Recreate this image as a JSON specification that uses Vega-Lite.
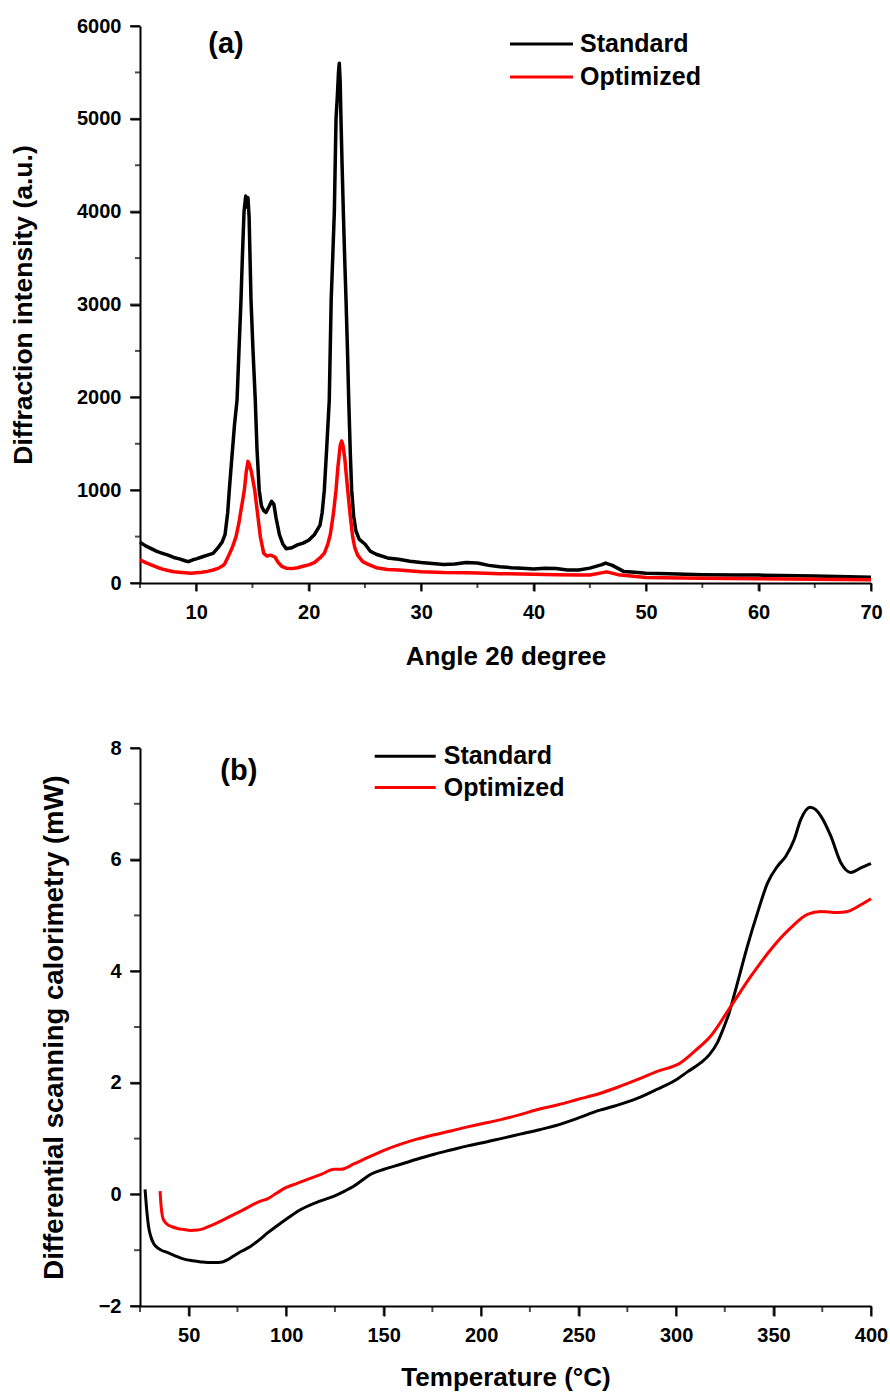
{
"$schema": "https://vega.github.io/schema/vega-lite/v6.json",
"padding": {"left": 10, "top": 16, "right": 5, "bottom": 5},
"spacing": 165,
"bounds": "flush",
"config": {
 "font": "Liberation Sans",
 "view": {"stroke": null},
 "axis": {"grid": false, "zindex": 1, "domainColor": "#000", "domainWidth": 2, "tickColor": "#000", "tickWidth": 2,
  "labelFont": "Liberation Sans", "labelFontSize": 20, "labelFontWeight": "bold", "labelColor": "#000",
  "titleFont": "Liberation Sans", "titleFontSize": 26, "titleFontWeight": "bold", "titleColor": "#000",
  "labelPadding": 9, "labelOverlap": false, "labelFlush": false}
},
"datasets": {
 "a_xmajor": [{"angle":10},{"angle":20},{"angle":30},{"angle":40},{"angle":50},{"angle":60},{"angle":70}],
 "a_xminor": [{"angle":5},{"angle":15},{"angle":25},{"angle":35},{"angle":45},{"angle":55},{"angle":65}],
 "a_ymajor": [{"intensity":0},{"intensity":1000},{"intensity":2000},{"intensity":3000},{"intensity":4000},{"intensity":5000},{"intensity":6000}],
 "a_yminor": [{"intensity":500},{"intensity":1500},{"intensity":2500},{"intensity":3500},{"intensity":4500},{"intensity":5500}],
 "b_xmajor": [{"temperature":50},{"temperature":100},{"temperature":150},{"temperature":200},{"temperature":250},{"temperature":300},{"temperature":350},{"temperature":400}],
 "b_xminor": [{"temperature":25},{"temperature":75},{"temperature":125},{"temperature":175},{"temperature":225},{"temperature":275},{"temperature":325},{"temperature":375}],
 "b_ymajor": [{"dsc":-2},{"dsc":0},{"dsc":2},{"dsc":4},{"dsc":6},{"dsc":8}],
 "b_yminor": [{"dsc":-1},{"dsc":1},{"dsc":3},{"dsc":5},{"dsc":7}],
 "xrd": [
  {"sample":"Standard","angle":5.0,"intensity":440},{"sample":"Standard","angle":5.5,"intensity":400},{"sample":"Standard","angle":6.0,"intensity":370},{"sample":"Standard","angle":6.5,"intensity":340},{"sample":"Standard","angle":7.0,"intensity":320},{"sample":"Standard","angle":7.5,"intensity":300},{"sample":"Standard","angle":8.0,"intensity":275},{"sample":"Standard","angle":8.5,"intensity":260},{"sample":"Standard","angle":9.0,"intensity":240},{"sample":"Standard","angle":9.3,"intensity":230},{"sample":"Standard","angle":9.7,"intensity":250},{"sample":"Standard","angle":10.0,"intensity":260},{"sample":"Standard","angle":10.5,"intensity":280},{"sample":"Standard","angle":11.0,"intensity":300},{"sample":"Standard","angle":11.5,"intensity":320},{"sample":"Standard","angle":12.0,"intensity":390},{"sample":"Standard","angle":12.3,"intensity":440},{"sample":"Standard","angle":12.56,"intensity":520},{"sample":"Standard","angle":12.8,"intensity":760},{"sample":"Standard","angle":12.94,"intensity":1000},{"sample":"Standard","angle":13.2,"intensity":1400},{"sample":"Standard","angle":13.4,"intensity":1700},{"sample":"Standard","angle":13.63,"intensity":1970},{"sample":"Standard","angle":13.8,"intensity":2500},{"sample":"Standard","angle":13.98,"intensity":3050},{"sample":"Standard","angle":14.1,"intensity":3500},{"sample":"Standard","angle":14.25,"intensity":4000},{"sample":"Standard","angle":14.4,"intensity":4170},{"sample":"Standard","angle":14.5,"intensity":4050},{"sample":"Standard","angle":14.6,"intensity":4150},{"sample":"Standard","angle":14.7,"intensity":3950},{"sample":"Standard","angle":14.87,"intensity":3050},{"sample":"Standard","angle":15.05,"intensity":2500},{"sample":"Standard","angle":15.25,"intensity":1970},{"sample":"Standard","angle":15.4,"intensity":1450},{"sample":"Standard","angle":15.6,"intensity":1000},{"sample":"Standard","angle":15.8,"intensity":830},{"sample":"Standard","angle":16.0,"intensity":780},{"sample":"Standard","angle":16.2,"intensity":760},{"sample":"Standard","angle":16.5,"intensity":830},{"sample":"Standard","angle":16.7,"intensity":880},{"sample":"Standard","angle":16.9,"intensity":850},{"sample":"Standard","angle":17.1,"intensity":700},{"sample":"Standard","angle":17.4,"intensity":520},{"sample":"Standard","angle":17.7,"intensity":420},{"sample":"Standard","angle":18.0,"intensity":370},{"sample":"Standard","angle":18.5,"intensity":380},{"sample":"Standard","angle":19.0,"intensity":410},{"sample":"Standard","angle":19.5,"intensity":430},{"sample":"Standard","angle":20.0,"intensity":460},{"sample":"Standard","angle":20.5,"intensity":520},{"sample":"Standard","angle":21.0,"intensity":620},{"sample":"Standard","angle":21.2,"intensity":760},{"sample":"Standard","angle":21.39,"intensity":1000},{"sample":"Standard","angle":21.6,"intensity":1450},{"sample":"Standard","angle":21.83,"intensity":1970},{"sample":"Standard","angle":22.0,"intensity":3050},{"sample":"Standard","angle":22.15,"intensity":3550},{"sample":"Standard","angle":22.28,"intensity":4000},{"sample":"Standard","angle":22.43,"intensity":5000},{"sample":"Standard","angle":22.55,"intensity":5250},{"sample":"Standard","angle":22.65,"intensity":5500},{"sample":"Standard","angle":22.72,"intensity":5600},{"sample":"Standard","angle":22.8,"intensity":5400},{"sample":"Standard","angle":22.87,"intensity":5000},{"sample":"Standard","angle":22.97,"intensity":4500},{"sample":"Standard","angle":23.08,"intensity":4000},{"sample":"Standard","angle":23.2,"intensity":3500},{"sample":"Standard","angle":23.32,"intensity":3050},{"sample":"Standard","angle":23.45,"intensity":2500},{"sample":"Standard","angle":23.56,"intensity":1970},{"sample":"Standard","angle":23.7,"intensity":1400},{"sample":"Standard","angle":23.82,"intensity":1000},{"sample":"Standard","angle":24.0,"intensity":720},{"sample":"Standard","angle":24.2,"intensity":560},{"sample":"Standard","angle":24.5,"intensity":470},{"sample":"Standard","angle":25.0,"intensity":420},{"sample":"Standard","angle":25.5,"intensity":340},{"sample":"Standard","angle":26.0,"intensity":310},{"sample":"Standard","angle":27.0,"intensity":270},{"sample":"Standard","angle":28.0,"intensity":255},{"sample":"Standard","angle":29.0,"intensity":235},{"sample":"Standard","angle":30.0,"intensity":220},{"sample":"Standard","angle":31.0,"intensity":210},{"sample":"Standard","angle":32.0,"intensity":200},{"sample":"Standard","angle":33.0,"intensity":205},{"sample":"Standard","angle":34.0,"intensity":220},{"sample":"Standard","angle":35.0,"intensity":215},{"sample":"Standard","angle":36.0,"intensity":190},{"sample":"Standard","angle":37.0,"intensity":175},{"sample":"Standard","angle":38.0,"intensity":165},{"sample":"Standard","angle":39.0,"intensity":160},{"sample":"Standard","angle":40.0,"intensity":150},{"sample":"Standard","angle":41.0,"intensity":160},{"sample":"Standard","angle":42.0,"intensity":155},{"sample":"Standard","angle":43.0,"intensity":140},{"sample":"Standard","angle":44.0,"intensity":140},{"sample":"Standard","angle":45.0,"intensity":160},{"sample":"Standard","angle":46.0,"intensity":195},{"sample":"Standard","angle":46.4,"intensity":215},{"sample":"Standard","angle":47.0,"intensity":190},{"sample":"Standard","angle":48.0,"intensity":125},{"sample":"Standard","angle":49.0,"intensity":115},{"sample":"Standard","angle":50.0,"intensity":105},{"sample":"Standard","angle":52.0,"intensity":100},{"sample":"Standard","angle":55.0,"intensity":90},{"sample":"Standard","angle":58.0,"intensity":85},{"sample":"Standard","angle":60.0,"intensity":85},{"sample":"Standard","angle":62.0,"intensity":80},{"sample":"Standard","angle":65.0,"intensity":75},{"sample":"Standard","angle":68.0,"intensity":68},{"sample":"Standard","angle":70.0,"intensity":62},
  {"sample":"Optimized","angle":5.0,"intensity":250},{"sample":"Optimized","angle":5.5,"intensity":220},{"sample":"Optimized","angle":6.0,"intensity":195},{"sample":"Optimized","angle":6.5,"intensity":170},{"sample":"Optimized","angle":7.0,"intensity":150},{"sample":"Optimized","angle":7.5,"intensity":135},{"sample":"Optimized","angle":8.0,"intensity":122},{"sample":"Optimized","angle":8.5,"intensity":115},{"sample":"Optimized","angle":9.0,"intensity":110},{"sample":"Optimized","angle":9.5,"intensity":105},{"sample":"Optimized","angle":10.0,"intensity":110},{"sample":"Optimized","angle":10.5,"intensity":115},{"sample":"Optimized","angle":11.0,"intensity":125},{"sample":"Optimized","angle":11.5,"intensity":140},{"sample":"Optimized","angle":12.0,"intensity":160},{"sample":"Optimized","angle":12.5,"intensity":200},{"sample":"Optimized","angle":12.9,"intensity":300},{"sample":"Optimized","angle":13.2,"intensity":380},{"sample":"Optimized","angle":13.54,"intensity":500},{"sample":"Optimized","angle":13.8,"intensity":650},{"sample":"Optimized","angle":14.0,"intensity":800},{"sample":"Optimized","angle":14.28,"intensity":1000},{"sample":"Optimized","angle":14.45,"intensity":1200},{"sample":"Optimized","angle":14.6,"intensity":1310},{"sample":"Optimized","angle":14.72,"intensity":1280},{"sample":"Optimized","angle":14.9,"intensity":1200},{"sample":"Optimized","angle":15.2,"intensity":1000},{"sample":"Optimized","angle":15.45,"intensity":750},{"sample":"Optimized","angle":15.7,"intensity":500},{"sample":"Optimized","angle":16.0,"intensity":320},{"sample":"Optimized","angle":16.3,"intensity":290},{"sample":"Optimized","angle":16.6,"intensity":300},{"sample":"Optimized","angle":17.0,"intensity":280},{"sample":"Optimized","angle":17.3,"intensity":220},{"sample":"Optimized","angle":17.6,"intensity":180},{"sample":"Optimized","angle":18.0,"intensity":160},{"sample":"Optimized","angle":18.5,"intensity":155},{"sample":"Optimized","angle":19.0,"intensity":165},{"sample":"Optimized","angle":19.5,"intensity":180},{"sample":"Optimized","angle":20.0,"intensity":195},{"sample":"Optimized","angle":20.5,"intensity":220},{"sample":"Optimized","angle":21.0,"intensity":270},{"sample":"Optimized","angle":21.39,"intensity":320},{"sample":"Optimized","angle":21.7,"intensity":420},{"sample":"Optimized","angle":21.92,"intensity":520},{"sample":"Optimized","angle":22.2,"intensity":750},{"sample":"Optimized","angle":22.43,"intensity":1000},{"sample":"Optimized","angle":22.6,"intensity":1250},{"sample":"Optimized","angle":22.8,"intensity":1480},{"sample":"Optimized","angle":22.93,"intensity":1530},{"sample":"Optimized","angle":23.05,"intensity":1480},{"sample":"Optimized","angle":23.2,"intensity":1350},{"sample":"Optimized","angle":23.47,"intensity":1000},{"sample":"Optimized","angle":23.7,"intensity":720},{"sample":"Optimized","angle":23.91,"intensity":500},{"sample":"Optimized","angle":24.1,"intensity":380},{"sample":"Optimized","angle":24.35,"intensity":300},{"sample":"Optimized","angle":24.8,"intensity":230},{"sample":"Optimized","angle":25.3,"intensity":200},{"sample":"Optimized","angle":26.0,"intensity":165},{"sample":"Optimized","angle":27.0,"intensity":145},{"sample":"Optimized","angle":28.0,"intensity":140},{"sample":"Optimized","angle":30.0,"intensity":122},{"sample":"Optimized","angle":32.0,"intensity":112},{"sample":"Optimized","angle":34.0,"intensity":110},{"sample":"Optimized","angle":35.0,"intensity":108},{"sample":"Optimized","angle":37.0,"intensity":100},{"sample":"Optimized","angle":40.0,"intensity":95},{"sample":"Optimized","angle":42.0,"intensity":90},{"sample":"Optimized","angle":44.0,"intensity":85},{"sample":"Optimized","angle":45.0,"intensity":86},{"sample":"Optimized","angle":46.5,"intensity":120},{"sample":"Optimized","angle":47.5,"intensity":90},{"sample":"Optimized","angle":50.0,"intensity":60},{"sample":"Optimized","angle":55.0,"intensity":50},{"sample":"Optimized","angle":60.0,"intensity":45},{"sample":"Optimized","angle":65.0,"intensity":40},{"sample":"Optimized","angle":70.0,"intensity":35}
 ],
 "dsc": [
  {"sample":"Standard","temperature":27.6,"dsc":0.09},{"sample":"Standard","temperature":28.5,"dsc":-0.3},{"sample":"Standard","temperature":29.5,"dsc":-0.6},{"sample":"Standard","temperature":30.5,"dsc":-0.75},{"sample":"Standard","temperature":32,"dsc":-0.88},{"sample":"Standard","temperature":33.1,"dsc":-0.93},{"sample":"Standard","temperature":36,"dsc":-1.0},{"sample":"Standard","temperature":39,"dsc":-1.04},{"sample":"Standard","temperature":43,"dsc":-1.1},{"sample":"Standard","temperature":47.6,"dsc":-1.16},{"sample":"Standard","temperature":52,"dsc":-1.19},{"sample":"Standard","temperature":56.2,"dsc":-1.21},{"sample":"Standard","temperature":59.6,"dsc":-1.22},{"sample":"Standard","temperature":63,"dsc":-1.22},{"sample":"Standard","temperature":67.3,"dsc":-1.21},{"sample":"Standard","temperature":70,"dsc":-1.17},{"sample":"Standard","temperature":73.2,"dsc":-1.1},{"sample":"Standard","temperature":77,"dsc":-1.02},{"sample":"Standard","temperature":81.8,"dsc":-0.93},{"sample":"Standard","temperature":86,"dsc":-0.82},{"sample":"Standard","temperature":90.4,"dsc":-0.69},{"sample":"Standard","temperature":95,"dsc":-0.57},{"sample":"Standard","temperature":99.8,"dsc":-0.45},{"sample":"Standard","temperature":107.5,"dsc":-0.27},{"sample":"Standard","temperature":115,"dsc":-0.15},{"sample":"Standard","temperature":124.6,"dsc":-0.03},{"sample":"Standard","temperature":130,"dsc":0.06},{"sample":"Standard","temperature":134.8,"dsc":0.15},{"sample":"Standard","temperature":140,"dsc":0.28},{"sample":"Standard","temperature":143.4,"dsc":0.36},{"sample":"Standard","temperature":150.2,"dsc":0.45},{"sample":"Standard","temperature":158.8,"dsc":0.54},{"sample":"Standard","temperature":167,"dsc":0.63},{"sample":"Standard","temperature":175.9,"dsc":0.72},{"sample":"Standard","temperature":185,"dsc":0.8},{"sample":"Standard","temperature":193,"dsc":0.87},{"sample":"Standard","temperature":200,"dsc":0.92},{"sample":"Standard","temperature":210.1,"dsc":1.0},{"sample":"Standard","temperature":220,"dsc":1.08},{"sample":"Standard","temperature":230,"dsc":1.16},{"sample":"Standard","temperature":240,"dsc":1.25},{"sample":"Standard","temperature":250,"dsc":1.37},{"sample":"Standard","temperature":260,"dsc":1.5},{"sample":"Standard","temperature":270,"dsc":1.6},{"sample":"Standard","temperature":280,"dsc":1.72},{"sample":"Standard","temperature":290,"dsc":1.88},{"sample":"Standard","temperature":300.7,"dsc":2.07},{"sample":"Standard","temperature":306,"dsc":2.2},{"sample":"Standard","temperature":312.7,"dsc":2.36},{"sample":"Standard","temperature":317,"dsc":2.5},{"sample":"Standard","temperature":321.2,"dsc":2.72},{"sample":"Standard","temperature":324,"dsc":2.95},{"sample":"Standard","temperature":327.2,"dsc":3.25},{"sample":"Standard","temperature":331.5,"dsc":3.79},{"sample":"Standard","temperature":336.6,"dsc":4.45},{"sample":"Standard","temperature":341.8,"dsc":5.05},{"sample":"Standard","temperature":346.9,"dsc":5.58},{"sample":"Standard","temperature":352,"dsc":5.88},{"sample":"Standard","temperature":356.3,"dsc":6.06},{"sample":"Standard","temperature":360.6,"dsc":6.36},{"sample":"Standard","temperature":364,"dsc":6.72},{"sample":"Standard","temperature":368.8,"dsc":6.94},{"sample":"Standard","temperature":371.5,"dsc":6.9},{"sample":"Standard","temperature":374.3,"dsc":6.78},{"sample":"Standard","temperature":379.4,"dsc":6.42},{"sample":"Standard","temperature":384.6,"dsc":5.94},{"sample":"Standard","temperature":389.7,"dsc":5.77},{"sample":"Standard","temperature":394.8,"dsc":5.85},{"sample":"Standard","temperature":400,"dsc":5.93},
  {"sample":"Optimized","temperature":35.3,"dsc":0.06},{"sample":"Optimized","temperature":35.8,"dsc":-0.2},{"sample":"Optimized","temperature":36.5,"dsc":-0.39},{"sample":"Optimized","temperature":37.5,"dsc":-0.48},{"sample":"Optimized","temperature":39.1,"dsc":-0.54},{"sample":"Optimized","temperature":41.5,"dsc":-0.58},{"sample":"Optimized","temperature":44.2,"dsc":-0.61},{"sample":"Optimized","temperature":47.5,"dsc":-0.63},{"sample":"Optimized","temperature":51,"dsc":-0.645},{"sample":"Optimized","temperature":54.5,"dsc":-0.64},{"sample":"Optimized","temperature":57.9,"dsc":-0.61},{"sample":"Optimized","temperature":62,"dsc":-0.55},{"sample":"Optimized","temperature":66.4,"dsc":-0.48},{"sample":"Optimized","temperature":71.5,"dsc":-0.39},{"sample":"Optimized","temperature":76.7,"dsc":-0.3},{"sample":"Optimized","temperature":82,"dsc":-0.2},{"sample":"Optimized","temperature":86.9,"dsc":-0.12},{"sample":"Optimized","temperature":90.4,"dsc":-0.08},{"sample":"Optimized","temperature":95,"dsc":0.02},{"sample":"Optimized","temperature":99.8,"dsc":0.12},{"sample":"Optimized","temperature":105,"dsc":0.19},{"sample":"Optimized","temperature":110.9,"dsc":0.27},{"sample":"Optimized","temperature":118,"dsc":0.36},{"sample":"Optimized","temperature":124.6,"dsc":0.45},{"sample":"Optimized","temperature":128,"dsc":0.45},{"sample":"Optimized","temperature":135,"dsc":0.55},{"sample":"Optimized","temperature":141.7,"dsc":0.66},{"sample":"Optimized","temperature":150.2,"dsc":0.79},{"sample":"Optimized","temperature":158.8,"dsc":0.9},{"sample":"Optimized","temperature":167,"dsc":0.99},{"sample":"Optimized","temperature":175.9,"dsc":1.07},{"sample":"Optimized","temperature":185,"dsc":1.14},{"sample":"Optimized","temperature":193,"dsc":1.21},{"sample":"Optimized","temperature":201,"dsc":1.27},{"sample":"Optimized","temperature":210.1,"dsc":1.34},{"sample":"Optimized","temperature":220,"dsc":1.43},{"sample":"Optimized","temperature":230,"dsc":1.53},{"sample":"Optimized","temperature":240,"dsc":1.61},{"sample":"Optimized","temperature":249.4,"dsc":1.7},{"sample":"Optimized","temperature":260,"dsc":1.8},{"sample":"Optimized","temperature":270,"dsc":1.92},{"sample":"Optimized","temperature":281,"dsc":2.07},{"sample":"Optimized","temperature":290,"dsc":2.2},{"sample":"Optimized","temperature":302.4,"dsc":2.36},{"sample":"Optimized","temperature":310,"dsc":2.58},{"sample":"Optimized","temperature":317.8,"dsc":2.84},{"sample":"Optimized","temperature":328.1,"dsc":3.37},{"sample":"Optimized","temperature":338.4,"dsc":3.91},{"sample":"Optimized","temperature":348.6,"dsc":4.39},{"sample":"Optimized","temperature":358.9,"dsc":4.78},{"sample":"Optimized","temperature":367.4,"dsc":5.02},{"sample":"Optimized","temperature":374.3,"dsc":5.07},{"sample":"Optimized","temperature":382.8,"dsc":5.05},{"sample":"Optimized","temperature":388,"dsc":5.07},{"sample":"Optimized","temperature":394.8,"dsc":5.19},{"sample":"Optimized","temperature":400,"dsc":5.3}
 ]
},
"vconcat": [
 {
  "width": 731, "height": 557,
  "resolve": {"axis": {"x": "independent", "y": "independent"}},
  "layer": [
   {
    "data": {"name": "xrd"},
    "mark": {"type": "line", "strokeWidth": 3.5, "strokeJoin": "round"},
    "encoding": {
     "x": {"field": "angle", "type": "quantitative", "title": "Angle 2θ degree",
      "scale": {"domain": [5, 70], "nice": false, "zero": false},
      "axis": {"orient": "bottom", "values": [10,20,30,40,50,60,70], "tickSize": 8, "labelPadding": 11,
       "titleY": 73, "titleBaseline": "middle"}},
     "y": {"field": "intensity", "type": "quantitative", "title": "Diffraction intensity (a.u.)",
      "scale": {"domain": [0, 6000], "nice": false},
      "axis": {"orient": "left", "values": [0,1000,2000,3000,4000,5000,6000], "tickSize": 10,
       "format": "d", "titleX": -117, "titleBaseline": "middle", "titleFontSize": 26.5}},
     "color": {"field": "sample", "type": "nominal", "scale": {"domain": ["Standard", "Optimized"], "range": ["#000000", "#ff0000"]}, "legend": null}
    }
   },
   {
    "data": {"name": "a_xmajor"},
    "mark": {"type": "tick", "orient": "vertical", "size": 8, "thickness": 2, "color": "#000", "yOffset": 4, "clip": false},
    "encoding": {"x": {"field": "angle", "type": "quantitative", "axis": null}, "y": {"datum": 0, "type": "quantitative", "axis": null}}
   },
   {
    "data": {"name": "a_xminor"},
    "mark": {"type": "tick", "orient": "vertical", "size": 5, "thickness": 2, "color": "#000", "yOffset": 2.5, "clip": false},
    "encoding": {"x": {"field": "angle", "type": "quantitative", "axis": null}, "y": {"datum": 0, "type": "quantitative", "axis": null}}
   },
   {
    "data": {"name": "a_ymajor"},
    "mark": {"type": "tick", "orient": "horizontal", "size": 10, "thickness": 2, "color": "#000", "xOffset": -5, "clip": false},
    "encoding": {"y": {"field": "intensity", "type": "quantitative", "axis": null}, "x": {"datum": 5, "type": "quantitative", "axis": null}}
   },
   {
    "data": {"name": "a_yminor"},
    "mark": {"type": "tick", "orient": "horizontal", "size": 5, "thickness": 2, "color": "#000", "xOffset": -2.5, "clip": false},
    "encoding": {"y": {"field": "intensity", "type": "quantitative", "axis": null}, "x": {"datum": 5, "type": "quantitative", "axis": null}}
   },
   {
    "data": {"values": [{"label": "(a)"}]},
    "mark": {"type": "text", "fontSize": 29, "fontWeight": "bold", "align": "center", "baseline": "middle", "color": "#000"},
    "encoding": {"x": {"datum": 12.65, "type": "quantitative", "axis": null}, "y": {"datum": 5806, "type": "quantitative", "axis": null}, "text": {"field": "label"}}
   },
   {
    "data": {"values": [{"label": "Standard"}]},
    "mark": {"type": "rule", "strokeWidth": 3, "color": "#000"},
    "encoding": {"x": {"datum": 37.9, "type": "quantitative", "axis": null}, "x2": {"datum": 43.5}, "y": {"datum": 5806, "type": "quantitative", "axis": null}}
   },
   {
    "data": {"values": [{"label": "Optimized"}]},
    "mark": {"type": "rule", "strokeWidth": 3, "color": "#ff0000"},
    "encoding": {"x": {"datum": 37.9, "type": "quantitative", "axis": null}, "x2": {"datum": 43.5}, "y": {"datum": 5451, "type": "quantitative", "axis": null}}
   },
   {
    "data": {"values": [{"label": "Standard"}]},
    "mark": {"type": "text", "fontSize": 25, "fontWeight": "bold", "align": "left", "baseline": "middle", "color": "#000"},
    "encoding": {"x": {"datum": 44.13, "type": "quantitative", "axis": null}, "y": {"datum": 5806, "type": "quantitative", "axis": null}, "text": {"field": "label"}}
   },
   {
    "data": {"values": [{"label": "Optimized"}]},
    "mark": {"type": "text", "fontSize": 25, "fontWeight": "bold", "align": "left", "baseline": "middle", "color": "#000"},
    "encoding": {"x": {"datum": 44.13, "type": "quantitative", "axis": null}, "y": {"datum": 5451, "type": "quantitative", "axis": null}, "text": {"field": "label"}}
   }
  ]
 },
 {
  "width": 731, "height": 558,
  "resolve": {"axis": {"x": "independent", "y": "independent"}},
  "layer": [
   {
    "data": {"name": "dsc"},
    "mark": {"type": "line", "strokeWidth": 3, "strokeJoin": "round", "interpolate": "monotone"},
    "encoding": {
     "x": {"field": "temperature", "type": "quantitative", "title": "Temperature (°C)",
      "scale": {"domain": [25, 400], "nice": false, "zero": false},
      "axis": {"orient": "bottom", "values": [50,100,150,200,250,300,350,400], "tickSize": 10,
       "titleY": 71, "titleBaseline": "middle"}},
     "y": {"field": "dsc", "type": "quantitative", "title": "Differential scanning calorimetry (mW)",
      "scale": {"domain": [-2, 8], "nice": false, "zero": false},
      "axis": {"orient": "left", "values": [-2,0,2,4,6,8], "tickSize": 10,
       "titleX": -86, "titleBaseline": "middle", "titleFontSize": 27.5}},
     "color": {"field": "sample", "type": "nominal", "scale": {"domain": ["Standard", "Optimized"], "range": ["#000000", "#ff0000"]}, "legend": null}
    }
   },
   {
    "data": {"name": "b_xmajor"},
    "mark": {"type": "tick", "orient": "vertical", "size": 10, "thickness": 2, "color": "#000", "yOffset": 5, "clip": false},
    "encoding": {"x": {"field": "temperature", "type": "quantitative", "axis": null}, "y": {"datum": -2, "type": "quantitative", "axis": null}}
   },
   {
    "data": {"name": "b_xminor"},
    "mark": {"type": "tick", "orient": "vertical", "size": 6, "thickness": 2, "color": "#000", "yOffset": 3, "clip": false},
    "encoding": {"x": {"field": "temperature", "type": "quantitative", "axis": null}, "y": {"datum": -2, "type": "quantitative", "axis": null}}
   },
   {
    "data": {"name": "b_ymajor"},
    "mark": {"type": "tick", "orient": "horizontal", "size": 10, "thickness": 2, "color": "#000", "xOffset": -5, "clip": false},
    "encoding": {"y": {"field": "dsc", "type": "quantitative", "axis": null}, "x": {"datum": 25, "type": "quantitative", "axis": null}}
   },
   {
    "data": {"name": "b_yminor"},
    "mark": {"type": "tick", "orient": "horizontal", "size": 6, "thickness": 2, "color": "#000", "xOffset": -3, "clip": false},
    "encoding": {"y": {"field": "dsc", "type": "quantitative", "axis": null}, "x": {"datum": 25, "type": "quantitative", "axis": null}}
   },
   {
    "data": {"values": [{"label": "(b)"}]},
    "mark": {"type": "text", "fontSize": 29, "fontWeight": "bold", "align": "center", "baseline": "middle", "color": "#000"},
    "encoding": {"x": {"datum": 75.7, "type": "quantitative", "axis": null}, "y": {"datum": 7.58, "type": "quantitative", "axis": null}, "text": {"field": "label"}}
   },
   {
    "data": {"values": [{"label": "Standard"}]},
    "mark": {"type": "rule", "strokeWidth": 3, "color": "#000"},
    "encoding": {"x": {"datum": 145.4, "type": "quantitative", "axis": null}, "x2": {"datum": 176.7}, "y": {"datum": 7.85, "type": "quantitative", "axis": null}}
   },
   {
    "data": {"values": [{"label": "Optimized"}]},
    "mark": {"type": "rule", "strokeWidth": 3, "color": "#ff0000"},
    "encoding": {"x": {"datum": 145.4, "type": "quantitative", "axis": null}, "x2": {"datum": 176.7}, "y": {"datum": 7.29, "type": "quantitative", "axis": null}}
   },
   {
    "data": {"values": [{"label": "Standard"}]},
    "mark": {"type": "text", "fontSize": 25, "fontWeight": "bold", "align": "left", "baseline": "middle", "color": "#000"},
    "encoding": {"x": {"datum": 180.8, "type": "quantitative", "axis": null}, "y": {"datum": 7.85, "type": "quantitative", "axis": null}, "text": {"field": "label"}}
   },
   {
    "data": {"values": [{"label": "Optimized"}]},
    "mark": {"type": "text", "fontSize": 25, "fontWeight": "bold", "align": "left", "baseline": "middle", "color": "#000"},
    "encoding": {"x": {"datum": 180.8, "type": "quantitative", "axis": null}, "y": {"datum": 7.29, "type": "quantitative", "axis": null}, "text": {"field": "label"}}
   }
  ]
 }
]
}
